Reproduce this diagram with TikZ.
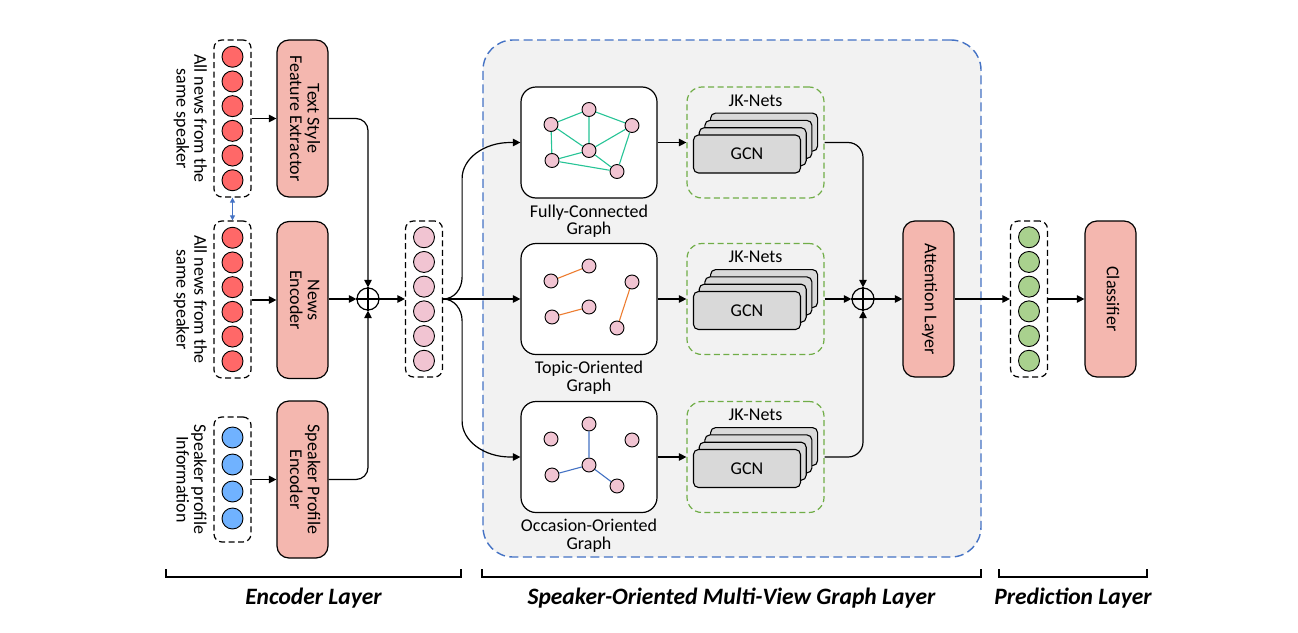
\documentclass[tikz,border=0pt]{standalone}
\usepackage{fontspec}
\setmainfont{Carlito}
\usetikzlibrary{arrows.meta,calc}
\definecolor{salmon}{RGB}{244,183,175}
\definecolor{redc}{RGB}{255,104,104}
\definecolor{bluec}{RGB}{112,178,255}
\definecolor{pinkc}{RGB}{241,196,210}
\definecolor{greenc}{RGB}{169,209,142}
\definecolor{bgray}{RGB}{242,242,242}
\definecolor{dblue}{RGB}{68,114,196}
\definecolor{dgreen}{RGB}{112,173,71}
\definecolor{teal}{RGB}{38,196,150}
\definecolor{orng}{RGB}{237,125,49}
\definecolor{gcnfill}{RGB}{217,217,217}
\newcommand{\myvtext}[1]{\rotatebox{-90}{\begin{tabular}{@{}c@{}}#1\end{tabular}}}
\begin{document}
\begin{tikzpicture}[x=1pt,y=-1pt,font=\fontsize{18}{17.5}\selectfont,
  box/.style={draw,line width=1.2pt,rounded corners=12pt,fill=salmon,minimum width=51pt,minimum height=157pt,inner sep=0pt,align=center},
  vec/.style={draw,line width=1.2pt,dash pattern=on 6pt off 3.5pt,rounded corners=8pt,minimum width=37pt,inner sep=0pt},
  dot/.style={circle,draw,line width=0.9pt,minimum size=21pt,inner sep=0pt},
  gdot/.style={circle,draw,line width=0.9pt,minimum size=14pt,inner sep=0pt,fill=pinkc},
  arr/.style={line width=1.2pt,-{Triangle[length=7.5pt,width=7.5pt]}},
  ln/.style={line width=1.2pt},
  gbox/.style={draw,line width=1.2pt,fill=white,rounded corners=15pt,minimum width=136pt,minimum height=111pt,inner sep=0pt},
  jkbox/.style={draw=dgreen,line width=1.2pt,dash pattern=on 6pt off 3.5pt,rounded corners=15pt,minimum width=137pt,minimum height=111pt,inner sep=0pt},
  gcn/.style={draw,line width=1.1pt,fill=gcnfill,rounded corners=5pt,minimum width=107pt,minimum height=38pt,inner sep=0pt},
  oplus/.style={circle,draw,line width=1.2pt,minimum size=22pt,inner sep=0pt},
  lbl/.style={align=center,inner sep=0pt},
  btitle/.style={font=\fontsize{23.5}{26}\selectfont\bfseries\itshape,inner sep=0pt}
]
\useasboundingbox (0,0) rectangle (1298,632);

% big background panel
\node[draw=dblue,line width=1.4pt,dash pattern=on 9pt off 4.5pt,fill=bgray,rounded corners=30pt,minimum width=498pt,minimum height=517pt,inner sep=0pt] (panel) at (732,298.5) {};

% input vectors
\node[vec,minimum height=157pt] (in1) at (232.5,118.5) {};
\node[vec,minimum height=157pt] (in2) at (232.5,299.5) {};
\node[vec,minimum height=125pt] (in3) at (232.5,479.5) {};
\foreach \i in {0,...,5}{
  \node[dot,fill=redc] (ra\i) at ($(in1.center)+(0,-61.75+24.7*\i)$) {};
  \node[dot,fill=redc] (rb\i) at ($(in2.center)+(0,-61.75+24.7*\i)$) {};
}
\foreach \i in {0,...,3}{
  \node[dot,fill=bluec] (bl\i) at ($(in3.center)+(0,-42+27*\i)$) {};
}
\node[lbl] (t1) at (189,118.5) {\myvtext{All news from the\\same speaker}};
\node[lbl] (t2) at (189,299.5) {\myvtext{All news from the\\same speaker}};
\node[lbl] (t3) at (189,479.5) {\myvtext{Speaker profile\\Information}};

\draw[dblue,line width=1.1pt,{Triangle[length=5pt,width=5pt]}-{Triangle[length=5pt,width=5pt]}] (in1.south) -- (in2.north);

% encoders
\node[box] (ts) at (302.5,118.5) {\myvtext{Text Style\\Feature Extractor}};
\node[box] (ne) at (302.5,300) {\myvtext{News\\Encoder}};
\node[box] (sp) at (302.5,479.5) {\myvtext{Speaker Profile\\Encoder}};
\draw[arr] (in1.east) -- (ts.west);
\draw[arr] (in2.east |- ne.west) -- (ne.west);
\draw[arr] (in3.east) -- (sp.west);

% fusion 1
\node[oplus] (op1) at (368,299) {};
\draw[ln] (op1.north) -- (op1.south) (op1.west) -- (op1.east);
\draw[arr,rounded corners=12pt] (ts.east) -| (op1.north);
\draw[arr,rounded corners=12pt] (sp.east) -| (op1.south);
\draw[arr] (ne.east |- op1.west) -- (op1.west);

\node[vec,minimum height=156pt] (pk) at (424,299) {};
\foreach \i in {0,...,5}{
  \node[dot,fill=pinkc] (pc\i) at ($(pk.center)+(0,-61.75+24.7*\i)$) {};
}
\draw[arr] (op1.east) -- (pk.west);

% graph boxes
\node[gbox] (g1) at (589,142.5) {};
\node[gbox] (g2) at (589,299) {};
\node[gbox] (g3) at (589,457) {};
\node[lbl] (l1) at ($(g1.south)+(0,22.5)$) {Fully-Connected\\Graph};
\node[lbl] (l2) at ($(g2.south)+(0,22.5)$) {Topic-Oriented\\Graph};
\node[lbl] (l3) at ($(g3.south)+(0,22.5)$) {Occasion-Oriented\\Graph};

\foreach \g in {1,2,3}{
  \node[gdot] (g\g a) at ($(g\g.center)+(-38,-18)$) {};
  \node[gdot] (g\g b) at ($(g\g.center)+(0,-33)$) {};
  \node[gdot] (g\g c) at ($(g\g.center)+(43,-17)$) {};
  \node[gdot] (g\g d) at ($(g\g.center)+(0,8)$) {};
  \node[gdot] (g\g e) at ($(g\g.center)+(-37,18)$) {};
  \node[gdot] (g\g f) at ($(g\g.center)+(28,29)$) {};
}
\draw[teal,line width=1.1pt] (g1a)--(g1b) (g1b)--(g1c) (g1a)--(g1d) (g1b)--(g1d) (g1d)--(g1c)
  (g1a)--(g1e) (g1e)--(g1d) (g1e)--(g1f) (g1d)--(g1f) (g1c)--(g1f);
\draw[orng,line width=1.1pt] (g2a)--(g2b) (g2e)--(g2d) (g2c)--(g2f);
\draw[dblue,line width=1.1pt] (g3b)--(g3d) (g3e)--(g3d) (g3d)--(g3f);

% branching
\coordinate (br) at ($(pk.east)+(19,0)$);
\coordinate (c1) at (br |- g1.west);
\coordinate (c3) at (br |- g3.west);
\draw[arr] (pk.east) .. controls ($(pk.east)+(11,0)$) and ($(br)+(0,-10)$) .. ($(br)+(0,-22)$)
  -- ($(c1)+(0,36)$) .. controls ($(c1)+(0,16)$) and ($(c1)+(22,0)$) .. ($(c1)+(48,0)$) -- (g1.west);
\draw[arr] (pk.east) .. controls ($(pk.east)+(11,0)$) and ($(br)+(0,10)$) .. ($(br)+(0,22)$)
  -- ($(c3)+(0,-36)$) .. controls ($(c3)+(0,-16)$) and ($(c3)+(22,0)$) .. ($(c3)+(48,0)$) -- (g3.west);
\draw[arr] (pk.east) -- (g2.west);

% JK nets
\foreach \g in {1,2,3}{
  \node[jkbox] (jk\g) at ($(g\g.center)+(166.5,0)$) {};
  \node[inner sep=0pt] (jkl\g) at ($(jk\g.north)+(0,14)$) {JK-Nets};
  \foreach \k in {3,2,1}{
    \node[gcn] (gcn\g\k) at ($(jk\g.center)+(-8.5+5.7*\k,11.5-7.3*\k)$) {};
  }
  \node[gcn] (gcn\g0) at ($(jk\g.center)+(-8.5,11.5)$) {GCN};
  \draw[arr] (g\g.east) -- (jk\g.west);
}

% fusion 2
\node[oplus] (op2) at (863,299) {};
\draw[ln] (op2.north) -- (op2.south) (op2.west) -- (op2.east);
\draw[arr,rounded corners=15pt] (jk1.east) -| (op2.north);
\draw[arr,rounded corners=15pt] (jk3.east) -| (op2.south);
\draw[arr] (jk2.east) -- (op2.west);

\node[box,minimum height=156pt] (att) at (928.5,299) {\myvtext{Attention Layer}};
\draw[arr] (op2.east) -- (att.west);

\node[vec,minimum height=156pt] (gr) at (1029,299) {};
\foreach \i in {0,...,5}{
  \node[dot,fill=greenc] (gc\i) at ($(gr.center)+(0,-61.75+24.7*\i)$) {};
}
\draw[arr] (att.east) -- (gr.west);
\node[box,minimum height=156pt] (cls) at (1110.5,299) {\myvtext{Classifier}};
\draw[arr] (gr.east) -- (cls.west);

% bottom brackets
\draw[line width=1.1pt] (166,569) -- (166,577) -- (461,577) -- (461,569);
\draw[line width=1.1pt] (482,569) -- (482,577) -- (981,577) -- (981,569);
\draw[line width=1.1pt] (999,569) -- (999,577) -- (1147,577) -- (1147,569);
\node[btitle] (b1) at (313.5,598) {Encoder Layer};
\node[btitle] (b2) at (731.5,598) {Speaker-Oriented Multi-View Graph Layer};
\node[btitle] (b3) at (1073,598) {Prediction Layer};
\end{tikzpicture}
\end{document}
